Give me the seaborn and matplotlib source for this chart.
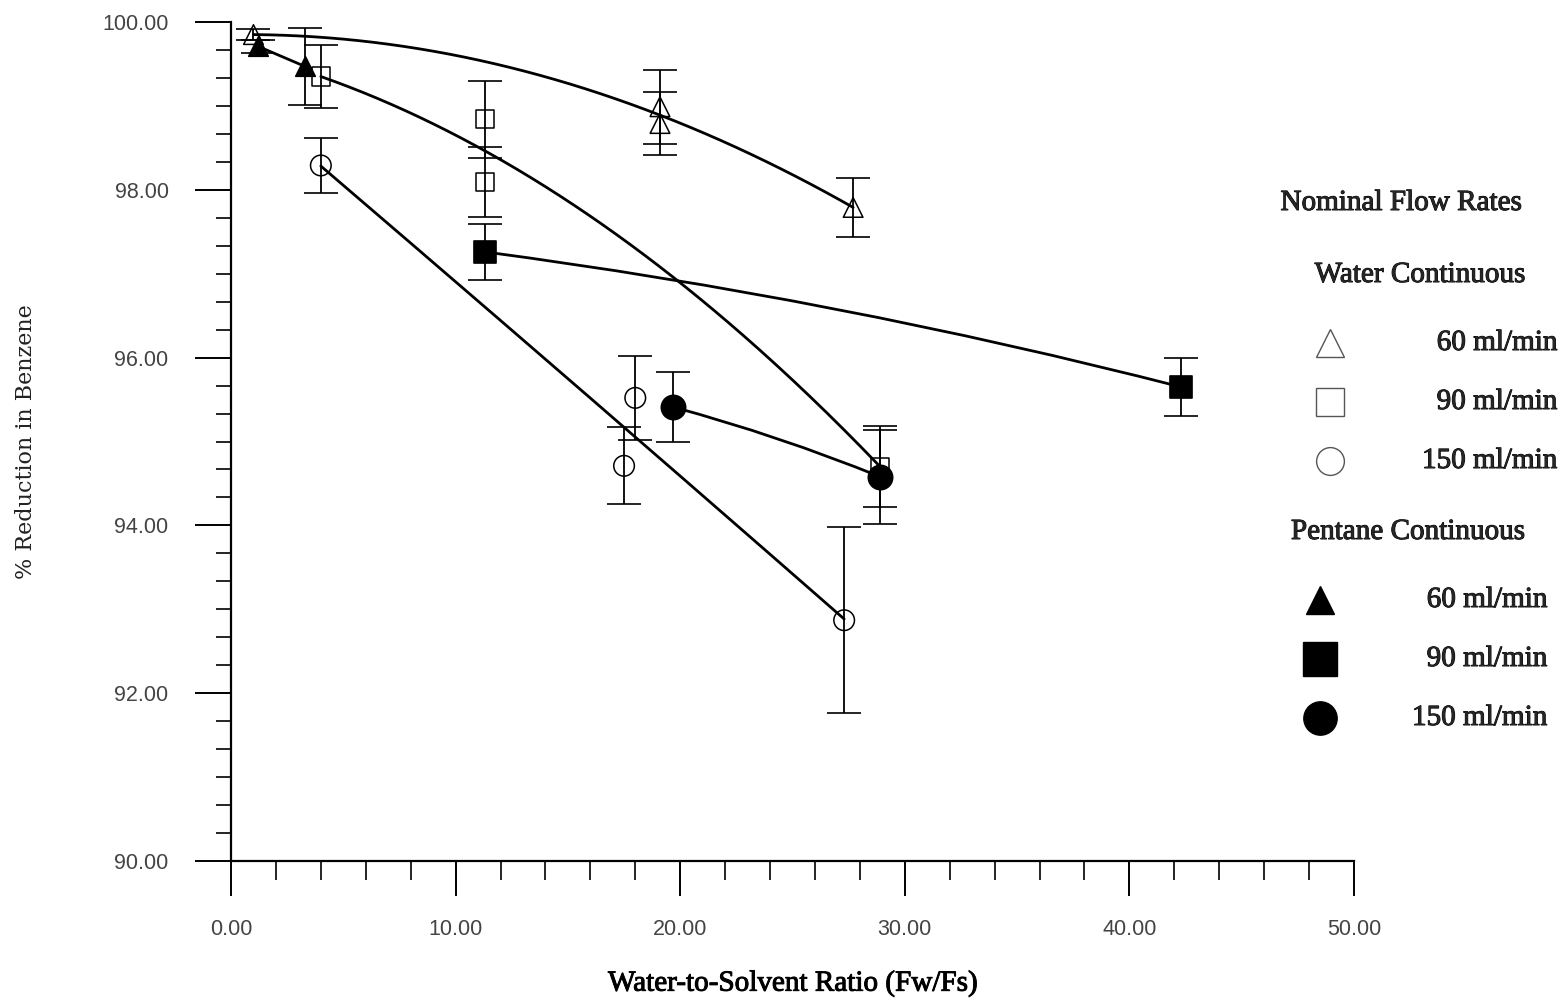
import numpy as np
import matplotlib
matplotlib.use("Agg")
import matplotlib.pyplot as plt
import matplotlib.patheffects as pe
import seaborn as sns
from matplotlib.ticker import MultipleLocator

# water continuous series (x = Fw/Fs, y = % reduction, err = half bar)
w60_x = [1.0, 19.1, 19.1, 27.7]
w60_y = [99.85, 98.99, 98.79, 97.79]
w60_err = [0.07, 0.44, 0.38, 0.35]

w90_x = [4.0, 11.3, 11.3, 28.9]
w90_y = [99.35, 98.84, 98.09, 94.70]
w90_err = [0.37, 0.46, 0.42, 0.48]

w150_x = [4.0, 17.5, 18.0, 27.3]
w150_y = [98.29, 94.71, 95.52, 92.87]
w150_err = [0.33, 0.46, 0.50, 1.11]

# pentane continuous series
p60_x = [1.2, 3.3]
p60_y = [99.71, 99.47]
p60_err = [0.08, 0.46]

p90_x = [11.3, 42.3]
p90_y = [97.26, 95.65]
p90_err = [0.33, 0.35]

p150_x = [19.7, 28.9]
p150_y = [95.41, 94.58]
p150_err = [0.42, 0.56]

flow_labels = ["60 ml/min", "90 ml/min", "150 ml/min"]
x_ticks = [0, 10, 20, 30, 40, 50]
y_ticks = [90, 92, 94, 96, 98, 100]

sns.set_theme(style="white")
plt.rcParams["font.family"] = ["Liberation Serif", "DejaVu Serif"]

heavy = [pe.withStroke(linewidth=0.7, foreground="black")]

fig = plt.figure(figsize=(15.63, 9.99), dpi=100)
ax = fig.add_axes([231 / 1563, 1 - 861 / 999, 1123 / 1563, 839 / 999])

# error bars
for xs, ys, es in [(w60_x, w60_y, w60_err), (w90_x, w90_y, w90_err),
                   (w150_x, w150_y, w150_err), (p60_x, p60_y, p60_err),
                   (p90_x, p90_y, p90_err), (p150_x, p150_y, p150_err)]:
    ax.errorbar(xs, ys, yerr=es, fmt="none", ecolor="black",
                elinewidth=1.3, capsize=12, capthick=1.2, zorder=2)

# fitted curves for the water series
for xs, ys in [(w60_x, w60_y), (w90_x, w90_y), (w150_x, w150_y)]:
    coef = np.polyfit(xs, ys, 2)
    xx = np.linspace(min(xs), max(xs), 200)
    sns.lineplot(x=xx, y=np.polyval(coef, xx), color="black", lw=2.0,
                 ax=ax, zorder=3)

# pentane lines
sns.lineplot(x=p60_x, y=p60_y, color="black", lw=2.0, ax=ax, zorder=3)
for xs, ys, rad in [(p90_x, p90_y, -0.03), (p150_x, p150_y, -0.03)]:
    ax.annotate("", xy=(xs[1], ys[1]), xytext=(xs[0], ys[0]),
                arrowprops=dict(arrowstyle="-", color="black", lw=2.0,
                                shrinkA=0, shrinkB=0,
                                connectionstyle=f"arc3,rad={rad}"),
                zorder=3)

# markers
open_kw = dict(facecolor="none", edgecolor="black", linewidth=1.1, zorder=4)
sns.scatterplot(x=w60_x, y=w60_y, marker="^", s=200, ax=ax, **open_kw)
sns.scatterplot(x=w90_x, y=w90_y, marker="s", s=170, ax=ax, **open_kw)
sns.scatterplot(x=w150_x, y=w150_y, marker="o", s=220, ax=ax, **open_kw)
fill_kw = dict(color="black", edgecolor="black", zorder=5)
sns.scatterplot(x=p60_x, y=p60_y, marker="^", s=200, ax=ax, **fill_kw)
sns.scatterplot(x=p90_x, y=p90_y, marker="s", s=230, ax=ax, **fill_kw)
sns.scatterplot(x=p150_x, y=p150_y, marker="o", s=300, ax=ax, **fill_kw)

ax.set_xlim(0, 50)
ax.set_ylim(90, 100)
ax.set_xticks(x_ticks)
ax.set_yticks(y_ticks)
ax.set_xticklabels([f"{v:.2f}" for v in x_ticks])
ax.set_yticklabels([f"{v:.2f}" for v in y_ticks])
ax.xaxis.set_minor_locator(MultipleLocator(2))
ax.yaxis.set_minor_locator(MultipleLocator(1 / 3))

for s in ["top", "right"]:
    ax.spines[s].set_visible(False)
for s in ["left", "bottom"]:
    ax.spines[s].set_color("black")
    ax.spines[s].set_linewidth(1.6)

ax.tick_params(axis="x", which="major", direction="out", length=25, width=1.4,
               pad=17, color="black")
ax.tick_params(axis="x", which="minor", direction="out", length=14, width=1.2,
               color="black")
ax.tick_params(axis="y", which="major", direction="out", length=26, width=1.4,
               pad=19, color="black")
ax.tick_params(axis="y", which="minor", direction="out", length=11, width=1.2,
               color="black")
ax.xaxis.set_ticks_position("bottom")
ax.yaxis.set_ticks_position("left")
for lab in ax.get_xticklabels() + ax.get_yticklabels():
    lab.set_family(["Liberation Sans", "DejaVu Sans"])
    lab.set_fontsize(15.5)
    lab.set_color("#444444")

ax.set_xlabel("Water-to-Solvent Ratio (Fw/Fs)", fontsize=21,
              family=["Liberation Serif"], color="black", path_effects=heavy)
ax.xaxis.set_label_coords(0.5, -0.13)
ax.set_ylabel("% Reduction in Benzene", fontsize=16,
              family=["DejaVu Serif"], color="#222222")
ax.yaxis.set_label_coords(-0.173, 0.5)

# legend drawn in figure pixel space
lax = fig.add_axes([0, 0, 1, 1])
lax.set_xlim(0, 1563)
lax.set_ylim(999, 0)
lax.axis("off")
lax.patch.set_alpha(0)

txt_kw = dict(fontsize=21, va="center", path_effects=heavy)
lax.text(1401, 203, "Nominal Flow Rates", ha="center", **txt_kw)
lax.text(1420, 275, "Water Continuous", ha="center", **txt_kw)
lax.text(1408, 532, "Pentane Continuous", ha="center", **txt_kw)

water_rows = [343, 402, 461]
pent_rows = [600, 659, 718]
for m, yy, lab in zip(["^", "s", "o"], water_rows, flow_labels):
    lax.plot(1330, yy, marker=m, ms=20, mfc="none", mec="#555555", mew=1.0)
    lax.text(1557, yy, lab, ha="right", **txt_kw)
for m, yy, lab, ms in zip(["^", "s", "o"], pent_rows, flow_labels, [20, 24, 24]):
    lax.plot(1320, yy, marker=m, ms=ms, color="black")
    lax.text(1547, yy, lab, ha="right", **txt_kw)

fig.savefig("out.png", dpi=100, facecolor="white")
